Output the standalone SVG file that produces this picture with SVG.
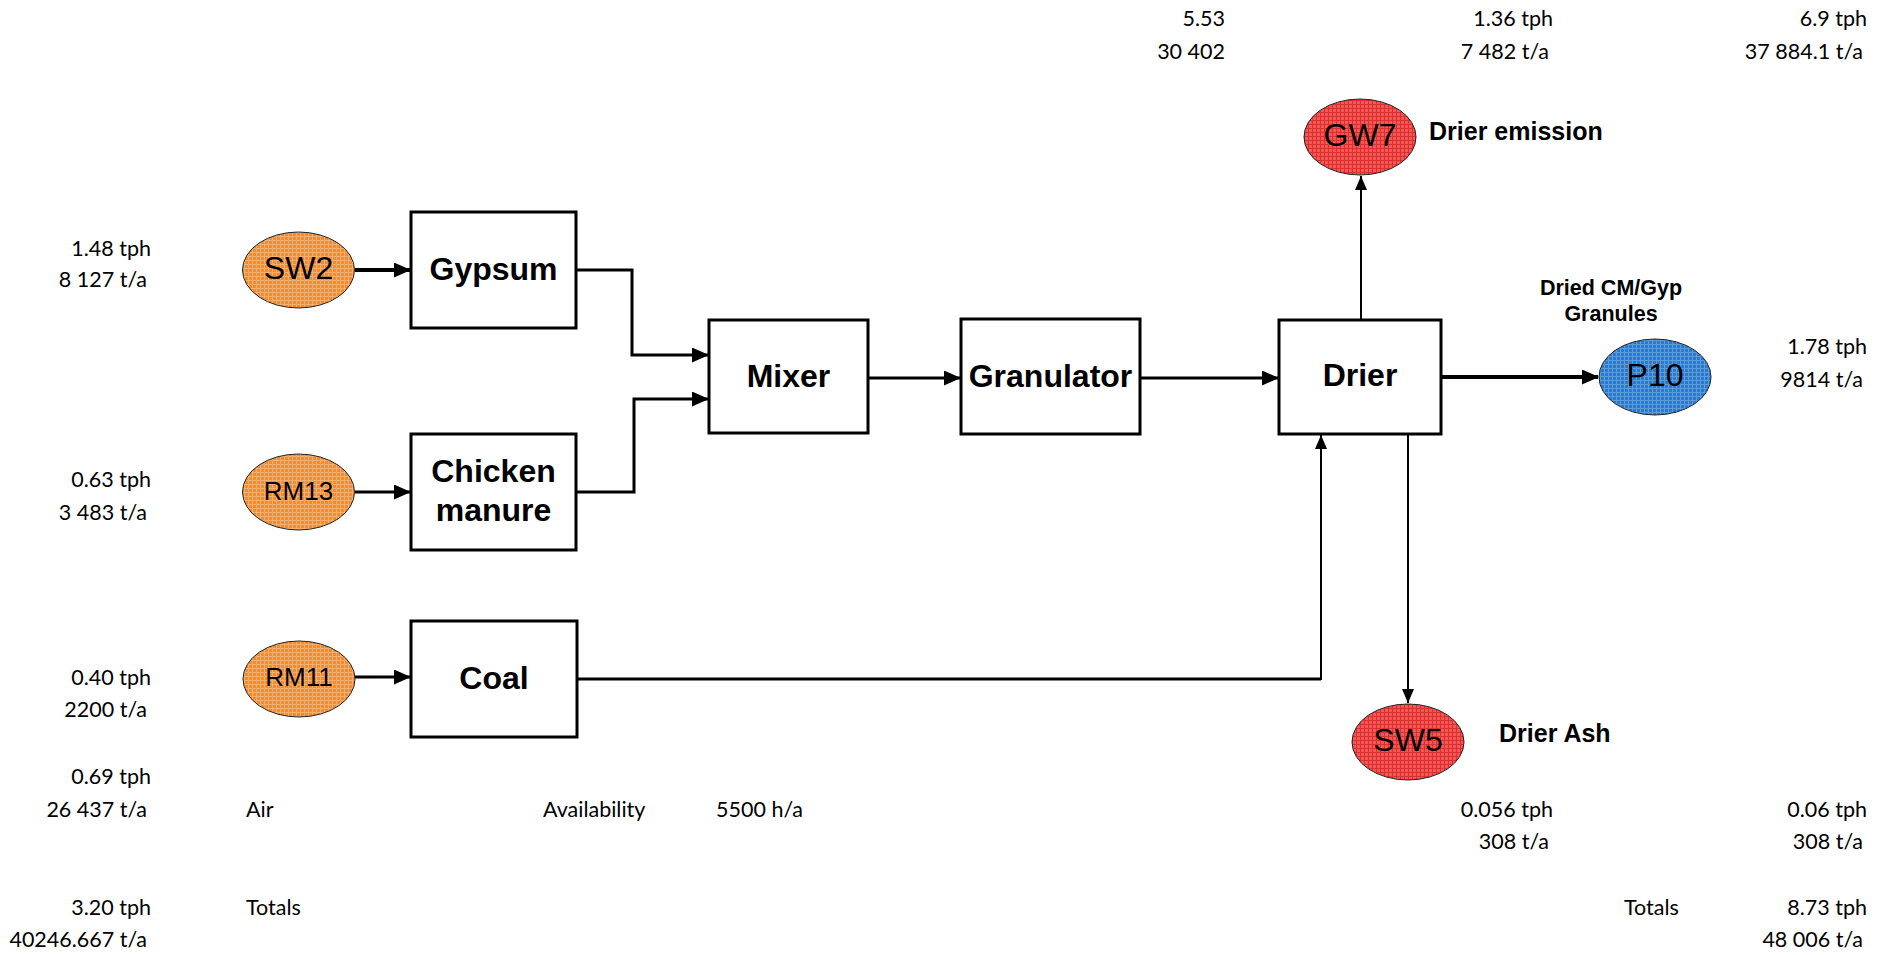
<svg xmlns="http://www.w3.org/2000/svg" width="1888" height="955" viewBox="0 0 1888 955">
  <style>
    .box { fill: #ffffff; stroke: #000000; stroke-width: 3; }
    .blabel { font-family: "Liberation Sans", Arial, sans-serif; font-weight: bold; font-size: 32px; fill: #000; text-anchor: middle; }
    .elabel { font-family: "Liberation Sans", Arial, sans-serif; font-size: 32px; fill: #000; text-anchor: middle; }
    .elabel.sm { font-size: 26px; }
    .tag { font-family: "Liberation Sans", Arial, sans-serif; font-weight: bold; font-size: 25px; fill: #000; }
    .tag.mid { font-size: 21.5px; text-anchor: middle; }
    .num { font-family: Lato, "Open Sans", sans-serif; font-size: 21.5px; fill: #000; }
    .r { text-anchor: end; }
    .stream { fill: none; stroke: #000; stroke-width: 3; }
    .stream.thick { stroke-width: 4; }
    .stream.thin { stroke-width: 2; }
    .src { stroke: #222; stroke-width: 1; }
  </style>
  <defs>
    <pattern id="gridOrange" width="4" height="4" patternUnits="userSpaceOnUse">
      <rect width="4" height="4" fill="#F28C33"/>
      <path d="M0 0.5H4M0.5 0V4" stroke="#F7AE6A" stroke-width="1"/>
    </pattern>
    <pattern id="gridRed" width="4" height="4" patternUnits="userSpaceOnUse">
      <rect width="4" height="4" fill="#F55656"/>
      <path d="M0 0.5H4M0.5 0V4" stroke="#DA3030" stroke-width="1"/>
    </pattern>
    <pattern id="gridBlue" width="4" height="4" patternUnits="userSpaceOnUse">
      <rect width="4" height="4" fill="#2A7BCB"/>
      <path d="M0 0.5H4M0.5 0V4" stroke="#5C9CDC" stroke-width="1"/>
    </pattern>
    <marker id="arrow" markerWidth="17" markerHeight="15" refX="16" refY="7.5" orient="auto" markerUnits="userSpaceOnUse">
      <path d="M0 0L17 7.5L0 15Z" fill="#000"/>
    </marker>
    <marker id="arrowThin" markerWidth="14" markerHeight="12" refX="14" refY="6" orient="auto" markerUnits="userSpaceOnUse">
      <path d="M0 0L14 6L0 12Z" fill="#000"/>
    </marker>
  </defs>

  <rect width="1888" height="955" fill="#ffffff"/>

  <!-- streams between units -->
  <g id="connectors">
    <path class="stream thick" d="M355 270H410" marker-end="url(#arrow)"/>
    <path class="stream" d="M355 492H410" marker-end="url(#arrow)"/>
    <path class="stream" d="M355 677H410" marker-end="url(#arrow)"/>
    <path class="stream" d="M576 270H632V355H708" marker-end="url(#arrow)"/>
    <path class="stream" d="M576 492H634V399H708" marker-end="url(#arrow)"/>
    <path class="stream" d="M868 378H960" marker-end="url(#arrow)"/>
    <path class="stream" d="M1140 378H1278" marker-end="url(#arrow)"/>
    <path class="stream thick" d="M1441 377H1598" marker-end="url(#arrow)"/>
    <path class="stream" d="M577 679H1321"/>
    <path class="stream thin" d="M1321 680V435" marker-end="url(#arrowThin)"/>
    <path class="stream thin" d="M1361 320V176" marker-end="url(#arrowThin)"/>
    <path class="stream thin" d="M1408 434V703" marker-end="url(#arrowThin)"/>
  </g>

  <!-- process units -->
  <g id="gypsum">
    <rect class="box" x="411" y="212" width="165" height="116"/>
    <text class="blabel" x="493.5" y="280">Gypsum</text>
  </g>
  <g id="chicken-manure">
    <rect class="box" x="411" y="434" width="165" height="116"/>
    <text class="blabel" x="493.5" y="482">Chicken</text>
    <text class="blabel" x="493.5" y="521">manure</text>
  </g>
  <g id="coal">
    <rect class="box" x="411" y="621" width="166" height="116"/>
    <text class="blabel" x="494" y="689">Coal</text>
  </g>
  <g id="mixer">
    <rect class="box" x="709" y="320" width="159" height="113"/>
    <text class="blabel" x="788.5" y="387">Mixer</text>
  </g>
  <g id="granulator">
    <rect class="box" x="961" y="319" width="179" height="115"/>
    <text class="blabel" x="1050.5" y="387">Granulator</text>
  </g>
  <g id="drier">
    <rect class="box" x="1279" y="320" width="162" height="114"/>
    <text class="blabel" x="1360" y="386">Drier</text>
  </g>

  <!-- stream sources and sinks -->
  <g id="sw2">
    <ellipse class="src" cx="298.5" cy="270" rx="56" ry="38" fill="url(#gridOrange)"/>
    <text class="elabel" x="298.5" y="279">SW2</text>
  </g>
  <g id="rm13">
    <ellipse class="src" cx="298.5" cy="492" rx="56" ry="38" fill="url(#gridOrange)"/>
    <text class="elabel sm" x="298.5" y="500">RM13</text>
  </g>
  <g id="rm11">
    <ellipse class="src" cx="299" cy="679" rx="56" ry="38" fill="url(#gridOrange)"/>
    <text class="elabel sm" x="299" y="686">RM11</text>
  </g>
  <g id="gw7">
    <ellipse class="src" cx="1360" cy="137" rx="56" ry="38" fill="url(#gridRed)"/>
    <text class="elabel" x="1360" y="146">GW7</text>
  </g>
  <g id="sw5">
    <ellipse class="src" cx="1408" cy="742" rx="56" ry="38" fill="url(#gridRed)"/>
    <text class="elabel" x="1408" y="751">SW5</text>
  </g>
  <g id="p10">
    <ellipse class="src" cx="1655" cy="377" rx="56" ry="38" fill="url(#gridBlue)"/>
    <text class="elabel" x="1655" y="386">P10</text>
  </g>

  <!-- stream names -->
  <g id="stream-names">
    <text class="tag" x="1429" y="140">Drier emission</text>
    <text class="tag" x="1499" y="742">Drier Ash</text>
    <text class="tag mid" x="1611" y="295">Dried CM/Gyp</text>
    <text class="tag mid" x="1611" y="321">Granules</text>
  </g>

  <!-- flow rates -->
  <g id="flow-rates">
    <text class="num r" x="151" y="256">1.48 tph</text>
    <text class="num r" x="147" y="287">8 127 t/a</text>
    <text class="num r" x="151" y="487">0.63 tph</text>
    <text class="num r" x="147" y="520">3 483 t/a</text>
    <text class="num r" x="151" y="685">0.40 tph</text>
    <text class="num r" x="147" y="717">2200 t/a</text>
    <text class="num r" x="151" y="784">0.69 tph</text>
    <text class="num r" x="147" y="817">26 437 t/a</text>
    <text class="num r" x="151" y="915">3.20 tph</text>
    <text class="num r" x="147" y="947">40246.667 t/a</text>

    <text class="num" x="246" y="817">Air</text>
    <text class="num" x="543" y="817">Availability</text>
    <text class="num" x="716" y="817">5500 h/a</text>
    <text class="num" x="246" y="915">Totals</text>

    <text class="num r" x="1225" y="26">5.53</text>
    <text class="num r" x="1225" y="59">30 402</text>
    <text class="num r" x="1553" y="26">1.36 tph</text>
    <text class="num r" x="1549" y="59">7 482 t/a</text>
    <text class="num r" x="1867" y="26">6.9 tph</text>
    <text class="num r" x="1863" y="59">37 884.1 t/a</text>

    <text class="num r" x="1867" y="354">1.78 tph</text>
    <text class="num r" x="1863" y="387">9814 t/a</text>

    <text class="num r" x="1553" y="817">0.056 tph</text>
    <text class="num r" x="1549" y="849">308 t/a</text>
    <text class="num r" x="1867" y="817">0.06 tph</text>
    <text class="num r" x="1863" y="849">308 t/a</text>

    <text class="num" x="1624" y="915">Totals</text>
    <text class="num r" x="1867" y="915">8.73 tph</text>
    <text class="num r" x="1863" y="947">48 006 t/a</text>
  </g>
</svg>
